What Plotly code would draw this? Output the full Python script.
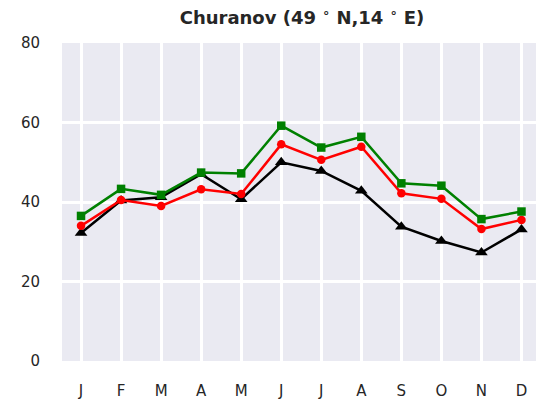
import plotly.graph_objects as go

months = [1, 2, 3, 4, 5, 6, 7, 8, 9, 10, 11, 12]
month_labels = ["J", "F", "M", "A", "M", "J", "J", "A", "S", "O", "N", "D"]
black_vals = [32.2, 40.4, 41.2, 47.0, 40.7, 50.0, 47.8, 42.8, 33.8, 30.2, 27.3, 33.1]
red_vals = [34.0, 40.5, 39.0, 43.2, 42.0, 54.5, 50.6, 53.9, 42.2, 40.8, 33.2, 35.5]
green_vals = [36.5, 43.3, 41.8, 47.4, 47.2, 59.2, 53.7, 56.4, 44.7, 44.1, 35.7, 37.6]
y_ticks = [0, 20, 40, 60, 80]

fig = go.Figure()
fig.add_trace(go.Scatter(x=months, y=black_vals, mode="lines+markers",
                         line=dict(color="black", width=2.5),
                         marker=dict(symbol="triangle-up", size=11, color="black")))
fig.add_trace(go.Scatter(x=months, y=red_vals, mode="lines+markers",
                         line=dict(color="red", width=2.5),
                         marker=dict(symbol="circle", size=8.5, color="red")))
fig.add_trace(go.Scatter(x=months, y=green_vals, mode="lines+markers",
                         line=dict(color="green", width=2.5),
                         marker=dict(symbol="square", size=8.5, color="green")))

# page is offset by the default 8px body margin; figure sized to fit the window
fig.update_layout(
    width=536, height=391,
    margin=dict(l=54, r=0, t=35, b=38, autoexpand=False),
    paper_bgcolor="white", plot_bgcolor="#EAEAF2",
    showlegend=False,
    font=dict(family="DejaVu Sans", size=15, color="#262626"),
    title=dict(text="<b>Churanov (49 <sup>∘</sup> N,14 <sup>∘</sup> E)</b>",
               x=(294 / 536), xanchor="center", y=1 - 10 / 391, yanchor="middle",
               font=dict(family="DejaVu Sans", size=18, color="#262626")),
)
fig.update_xaxes(range=[0.525, 12.5625], tickvals=months, ticktext=month_labels,
                 showgrid=True, gridcolor="white", gridwidth=3, zeroline=False,
                 showline=False, ticks="", ticklabelstandoff=19, automargin=False)
fig.update_yaxes(range=[0, 80], tickvals=y_ticks,
                 showgrid=True, gridcolor="white", gridwidth=3, zeroline=False,
                 showline=False, ticks="", ticklabelstandoff=21, automargin=False)

fig.write_html("out.html")
